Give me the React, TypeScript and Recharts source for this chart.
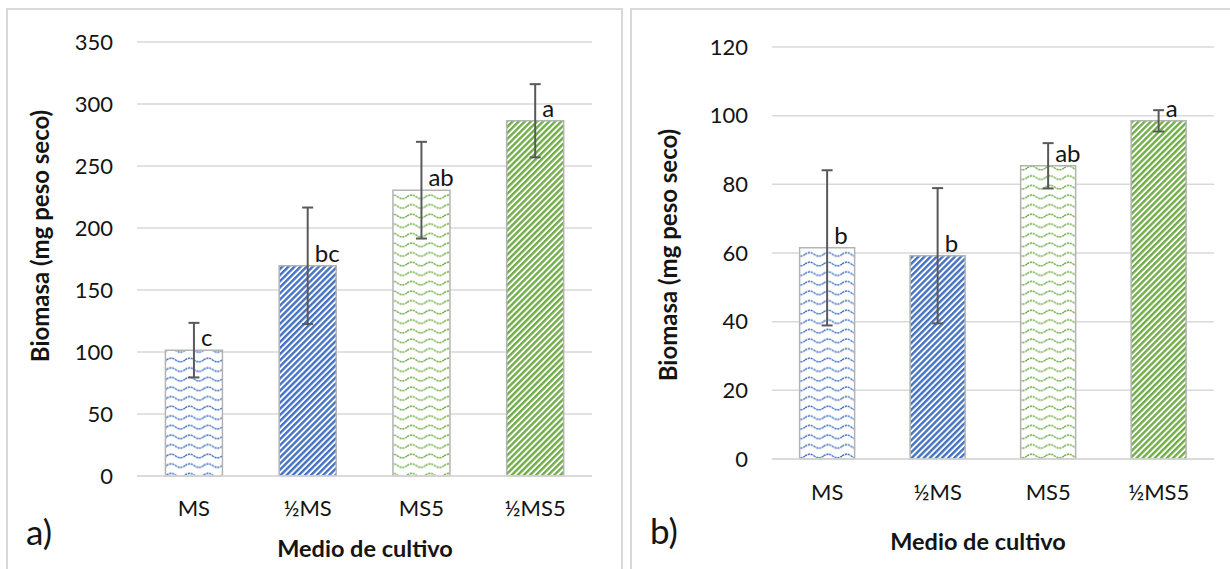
import React from 'react';
import { BarChart, Bar, XAxis, YAxis, CartesianGrid, ErrorBar, Cell, LabelList } from 'recharts';

// ---- data ----
const categories = ['MS', '½MS', 'MS5', '½MS5'];

const biomassA = [101.5, 169.5, 230.5, 286.5];
const errorA = [22, 47, 39, 29.5];
const lettersA = ['c', 'bc', 'ab', 'a'];
const ticksA = [0, 50, 100, 150, 200, 250, 300, 350];

const biomassB = [61.5, 59.2, 85.4, 98.5];
const errorB = [22.6, 19.7, 6.6, 3.1];
const lettersB = ['b', 'b', 'ab', 'a'];
const ticksB = [0, 20, 40, 60, 80, 100, 120];

const yTitle = 'Biomasa (mg peso seco)';
const xTitle = 'Medio de cultivo';

const BLUE = '#4472C4';
const GREEN = '#70AD47';
const seriesColors = [BLUE, BLUE, GREEN, GREEN];
const seriesPattern = ['wave', 'diag', 'wave', 'diag'];

const dataA = categories.map((c, i) => ({ cat: c, value: biomassA[i], err: errorA[i], letter: lettersA[i] }));
const dataB = categories.map((c, i) => ({ cat: c, value: biomassB[i], err: errorB[i], letter: lettersB[i] }));

const FONT = 'Lato, "Open Sans", sans-serif';
const TEXT = '#141414';
const GRID = '#d9d9d9';

function Patterns({ prefix }: { prefix: string }) {
  return (
    <defs>
      {seriesColors.map((col, i) =>
        seriesPattern[i] === 'wave' ? (
          <pattern key={i} id={`${prefix}-p${i}`} patternUnits="userSpaceOnUse" width={18.5} height={9.6}>
            <rect width={18.5} height={9.6} fill="#fff" />
            <path d="M0 4.8 Q 4.625 1.2 9.25 4.8 T 18.5 4.8" fill="none" stroke={col} strokeWidth={1.5} strokeDasharray="2.2 0.8" />
          </pattern>
        ) : (
          <pattern key={i} id={`${prefix}-p${i}`} patternUnits="userSpaceOnUse" width={4.3} height={4.3} patternTransform="rotate(45)">
            <rect width={4.3} height={4.3} fill="#fff" />
            <rect x={0} y={0} width={2.4} height={4.3} fill={col} />
          </pattern>
        )
      )}
    </defs>
  );
}

const letterContent = (props: any) => {
  const { x, y, width, value } = props;
  return (
    <text x={Number(x) + Number(width) / 2 + 7} y={Number(y) - 4} fontSize={24} fontFamily={FONT} fill={TEXT} textAnchor="start">
      {value}
    </text>
  );
};

function Panel({ data, ticks, prefix, width, marginTop, xAxisHeight, yAxisWidth, marginRight, catMargin }: any) {
  return (
    <BarChart
      width={width}
      height={569}
      data={data}
      margin={{ top: marginTop, right: marginRight, bottom: 0, left: 0 }}
      barCategoryGap="25%"
    >
      <Patterns prefix={prefix} />
      <CartesianGrid vertical={false} stroke={GRID} strokeWidth={1.5} />
      <XAxis
        dataKey="cat"
        height={xAxisHeight}
        interval={0}
        axisLine={{ stroke: GRID, strokeWidth: 1.5 }}
        tickLine={false}
        tickSize={0}
        tickMargin={catMargin}
        tick={{ fill: TEXT, fontSize: 22, fontFamily: FONT }}
      />
      <YAxis
        width={yAxisWidth}
        domain={[ticks[0], ticks[ticks.length - 1]]}
        ticks={ticks}
        interval={0}
        axisLine={false}
        tickLine={false}
        tickSize={0}
        tickMargin={24}
        tick={{ fill: TEXT, fontSize: 22, fontFamily: FONT }}
      />
      <Bar dataKey="value" stroke="#b3b3b3" strokeWidth={1.5} isAnimationActive={false}>
        {data.map((_: any, i: number) => (
          <Cell key={i} fill={`url(#${prefix}-p${i})`} />
        ))}
        <ErrorBar dataKey="err" width={5.5} stroke="#595959" strokeWidth={2} isAnimationActive={false} />
        <LabelList dataKey="letter" content={letterContent} />
      </Bar>
    </BarChart>
  );
}

export default function App() {
  return (
    <div style={{ position: 'absolute', left: 0, top: 0, width: 1230, height: 569, overflow: 'hidden', background: '#fff' }}>
      <div style={{ position: 'absolute', left: 6, top: 8, width: 617, height: 620, border: `2px solid ${GRID}`, boxSizing: 'border-box' }} />
      <div style={{ position: 'absolute', left: 630, top: 8, width: 700, height: 620, border: `2px solid ${GRID}`, boxSizing: 'border-box' }} />
      <div style={{ position: 'absolute', left: 0, top: 0 }}>
        <Panel data={dataA} ticks={ticksA} prefix="a" width={620} marginTop={42} xAxisHeight={93} yAxisWidth={137} marginRight={28} catMargin={24} />
      </div>
      <div style={{ position: 'absolute', left: 620, top: 0 }}>
        <Panel data={dataB} ticks={ticksB} prefix="b" width={610} marginTop={47} xAxisHeight={110} yAxisWidth={152} marginRight={16} catMargin={25} />
      </div>
      <svg style={{ position: 'absolute', left: 0, top: 0, pointerEvents: 'none' }} width={1230} height={569}>
        <text x={49} y={236} transform="rotate(-90, 49, 236)" textAnchor="middle" fontSize={24} fontWeight={700} fontFamily={FONT} fill={TEXT}>{yTitle}</text>
        <text x={365} y={557} textAnchor="middle" fontSize={23.5} fontWeight={700} fontFamily={FONT} fill={TEXT}>{xTitle}</text>
        <text x={26} y={545} fontSize={35} fontFamily={FONT} fill={TEXT}>a)</text>
        <text x={677} y={255} transform="rotate(-90, 677, 255)" textAnchor="middle" fontSize={24} fontWeight={700} fontFamily={FONT} fill={TEXT}>{yTitle}</text>
        <text x={978} y={549.5} textAnchor="middle" fontSize={23.5} fontWeight={700} fontFamily={FONT} fill={TEXT}>{xTitle}</text>
        <text x={650} y={544} fontSize={35} fontFamily={FONT} fill={TEXT}>b)</text>
      </svg>
    </div>
  );
}
